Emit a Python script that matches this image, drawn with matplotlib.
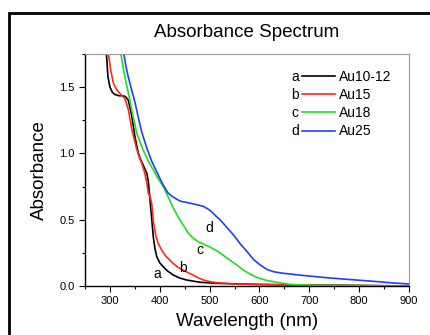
import matplotlib.pyplot as plt
from matplotlib.patches import Rectangle
from matplotlib.ticker import MultipleLocator

plt.rcParams['font.family'] = ['Liberation Sans', 'DejaVu Sans']

# Au10-12 (a)
wl_a = [293, 296, 300, 305, 310, 318, 327, 332, 337, 344, 350, 357, 362, 367, 374, 377,
        380, 384, 387, 390, 394, 400, 407, 415, 427, 440, 454, 481, 514, 600, 700, 800, 900]
abs_a = [1.75, 1.58, 1.50, 1.46, 1.445, 1.435, 1.435, 1.425, 1.40, 1.28, 1.13, 1.00, 0.95,
         0.91, 0.85, 0.79, 0.67, 0.50, 0.37, 0.29, 0.22, 0.175, 0.145, 0.115, 0.083, 0.06,
         0.045, 0.028, 0.02, 0.012, 0.007, 0.004, 0.0]

# Au15 (b)
wl_b = [297, 302, 307, 312, 317, 323, 330, 337, 344, 354, 359, 364, 370, 374, 377, 381,
        384, 387, 392, 397, 404, 411, 420, 427, 437, 447, 457, 467, 477, 488, 500, 514,
        550, 600, 700, 800, 900]
abs_b = [1.75, 1.62, 1.53, 1.49, 1.465, 1.44, 1.415, 1.33, 1.18, 1.03, 0.97, 0.925, 0.85,
         0.78, 0.70, 0.67, 0.62, 0.49, 0.38, 0.32, 0.27, 0.23, 0.195, 0.17, 0.14, 0.12,
         0.10, 0.083, 0.062, 0.045, 0.033, 0.025, 0.015, 0.01, 0.006, 0.003, 0.0]

# Au18 (c)
wl_c = [322, 326, 330, 335, 340, 347, 354, 365, 376, 385, 395, 407, 417, 427, 437, 447,
        457, 467, 477, 488, 500, 510, 521, 535, 554, 568, 581, 598, 615, 637, 662, 700,
        800, 900]
abs_c = [1.75, 1.66, 1.58, 1.49, 1.40, 1.27, 1.15, 1.04, 0.95, 0.89, 0.82, 0.75, 0.67,
         0.59, 0.52, 0.46, 0.40, 0.36, 0.335, 0.315, 0.295, 0.275, 0.25, 0.21, 0.16, 0.12,
         0.09, 0.06, 0.042, 0.026, 0.012, 0.006, 0.002, 0.0]

# Au25 (d)
wl_d = [328, 332, 336, 340, 345, 350, 357, 364, 374, 384, 394, 407, 417, 427, 434, 441,
        454, 467, 478, 488, 497, 504, 512, 521, 535, 548, 561, 575, 588, 601, 615, 628,
        645, 662, 695, 728, 760, 795, 830, 862, 899]
abs_d = [1.75, 1.66, 1.59, 1.53, 1.46, 1.39, 1.27, 1.16, 1.04, 0.94, 0.86, 0.76, 0.70,
         0.67, 0.655, 0.64, 0.63, 0.62, 0.61, 0.60, 0.58, 0.56, 0.53, 0.50, 0.44, 0.385,
         0.32, 0.26, 0.20, 0.16, 0.125, 0.108, 0.097, 0.09, 0.077, 0.065, 0.055, 0.045,
         0.035, 0.025, 0.015]

letters = ['a', 'b', 'c', 'd']
names = ['Au10-12', 'Au15', 'Au18', 'Au25']
colors = ['#000000', '#ff2a1a', '#1ee01e', '#1f3fff']
letter_x = [395, 446, 481, 500]
letter_y = [0.09, 0.135, 0.27, 0.44]

fig = plt.figure(figsize=(4.31, 3.35), dpi=100)
ax = fig.add_axes([85 / 431, 1 - 286 / 335, 324 / 431, 232 / 335])

series = [(wl_a, abs_a), (wl_b, abs_b), (wl_c, abs_c), (wl_d, abs_d)]
for (x, y), c, n in zip(series, colors, names):
    ax.plot(x, y, color=c, lw=1.2, label=n)

for lx, ly, t in zip(letter_x, letter_y, letters):
    ax.text(lx, ly, t, fontsize=10, ha='center', va='center')

ax.set_xlim(250, 900)
ax.set_ylim(0, 1.75)
ax.xaxis.set_major_locator(MultipleLocator(100))
ax.xaxis.set_minor_locator(MultipleLocator(50))
ax.yaxis.set_major_locator(MultipleLocator(0.5))
ax.yaxis.set_minor_locator(MultipleLocator(0.25))
ax.tick_params(which='major', direction='out', length=4, width=0.8, labelsize=8)
ax.tick_params(which='minor', direction='out', length=2.5, width=0.8)
ax.tick_params(top=False, right=False)

for s in ['top', 'right']:
    ax.spines[s].set_color('#999999')
for s in ['left', 'bottom']:
    ax.spines[s].set_linewidth(1.0)

ax.set_title('Absorbance Spectrum', fontsize=13.5, pad=12)
ax.set_xlabel('Wavelength (nm)', fontsize=13.5, labelpad=5)
ax.set_ylabel('Absorbance', fontsize=13.5, labelpad=8)

leg = ax.legend(loc='upper right', bbox_to_anchor=(0.985, 0.985), frameon=False,
                fontsize=10, handlelength=2.4, handletextpad=0.3, labelspacing=0.3)
fig.canvas.draw()
renderer = fig.canvas.get_renderer()
# letters placed left of each legend line, level with its label
for h, t, l in zip(leg.legend_handles, leg.get_texts(), letters):
    hb = h.get_window_extent(renderer)
    tb = t.get_window_extent(renderer)
    xy = ax.transAxes.inverted().transform((hb.x0 - 3, (tb.y0 + tb.y1) / 2))
    ax.text(xy[0], xy[1], l, transform=ax.transAxes, fontsize=10, ha='right', va='center')

fig.patches.append(Rectangle((9 / 431, -0.5), 2, 1.5 - 13 / 335, transform=fig.transFigure,
                             fill=False, edgecolor='black', lw=2, figure=fig))

fig.savefig('out.png', dpi=100)
